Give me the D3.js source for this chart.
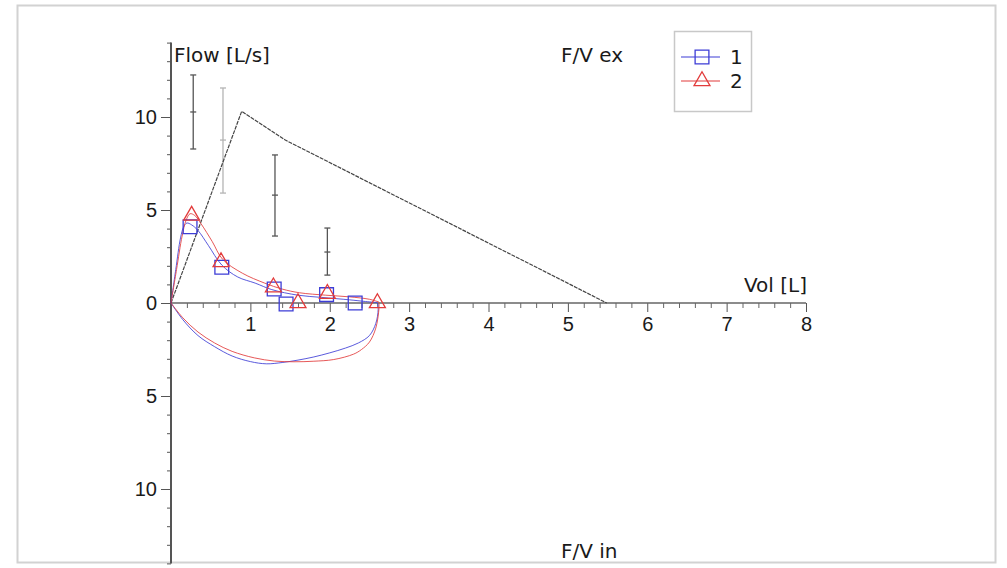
<!DOCTYPE html>
<html>
<head>
<meta charset="utf-8">
<script src="https://cdn.jsdelivr.net/npm/d3@7"></script>
<style>
  body { margin: 0; background: #fff; }
  svg { font-family: "DejaVu Sans", Verdana, sans-serif; }
  .tick text { font-size: 20px; fill: #1a1a1a; }
  .lbl { font-size: 20px; fill: #1a1a1a; }
</style>
</head>
<body>
<svg id="chart" width="1007" height="568"></svg>
<script>
// Axis ticks
const volTicks = [1, 2, 3, 4, 5, 6, 7, 8];
const flowTicks = [-10, -5, 0, 5, 10];

// Predicted curve
const predVol = [0, 0.89, 1.44, 5.49];
const predFlow = [0, 10.3, 8.76, 0];

// Predicted error bars
const barVol = [0.28, 0.655, 1.31, 1.97];
const barMid = [10.27, 8.76, 5.8, 2.74];
const barLow = [8.28, 5.91, 3.6, 1.5];
const barHigh = [12.26, 11.56, 7.96, 4.03];
const barShade = ['dark', 'light', 'dark', 'dark'];

// Measurement 1 (blue)
const exp1Vol = [0, 0.06, 0.12, 0.16, 0.2, 0.26, 0.34, 0.47, 0.64, 0.84, 1.06, 1.27, 1.6, 1.9, 2.25, 2.45, 2.6];
const exp1Flow = [0, 1.8, 3.5, 4.1, 4.3, 4.2, 3.9, 3.1, 2.04, 1.4, 1.07, 0.72, 0.42, 0.3, 0.17, 0.08, 0.02];
const insp1Vol = [2.6, 2.61, 2.58, 2.5, 2.36, 2.2, 2.0, 1.8, 1.6, 1.4, 1.2, 1.0, 0.77, 0.55, 0.34, 0.15, 0];
const insp1Flow = [0.02, -0.35, -1.1, -1.75, -2.15, -2.42, -2.68, -2.9, -3.07, -3.2, -3.27, -3.15, -2.85, -2.35, -1.75, -0.9, 0];
const mark1Vol = [0.24, 0.64, 1.3, 1.45, 1.96, 2.32];
const mark1Flow = [4.1, 1.92, 0.75, -0.05, 0.45, 0];

// Measurement 2 (red)
const exp2Vol = [0, 0.07, 0.14, 0.19, 0.24, 0.3, 0.38, 0.52, 0.65, 0.9, 1.18, 1.4, 1.62, 1.95, 2.25, 2.5, 2.62];
const exp2Flow = [0, 1.8, 3.6, 4.45, 4.8, 4.7, 4.25, 3.3, 2.35, 1.6, 1.07, 0.75, 0.55, 0.42, 0.33, 0.2, 0.05];
const insp2Vol = [2.62, 2.62, 2.58, 2.5, 2.4, 2.3, 2.05, 1.8, 1.55, 1.3, 1.05, 0.77, 0.55, 0.34, 0.15, 0];
const insp2Flow = [0.05, -0.3, -1.35, -2.1, -2.5, -2.75, -3.04, -3.13, -3.16, -3.12, -2.95, -2.6, -2.15, -1.56, -0.8, 0];
const mark2Vol = [0.26, 0.63, 1.29, 1.6, 1.97, 2.6];
const mark2Flow = [4.7, 2.2, 0.85, 0, 0.5, 0];

const seriesNames = ['1', '2'];
const blue = '#3d3dd6';
const red = '#e23b3b';

const svg = d3.select('#chart');

// Frame
svg.append('rect')
  .attr('x', 17.5).attr('y', 5.5)
  .attr('width', 978).attr('height', 557)
  .attr('fill', 'none')
  .attr('stroke', '#d2d2d2')
  .attr('stroke-width', 2);

// Scales
const x = d3.scaleLinear().domain([0, 8]).range([171, 806]);
const y = d3.scaleLinear().domain([-14, 14]).range([563.4, 42.6]);

// Y axis: major + minor ticks
const minorFlow = d3.range(-14, 15).filter(v => v % 5 !== 0);
svg.append('g')
  .attr('transform', `translate(${x(0)},0)`)
  .call(d3.axisLeft(y).tickValues(minorFlow).tickSize(4).tickFormat(''))
  .call(g => g.select('.domain').remove())
  .selectAll('line').attr('stroke', '#555');

svg.append('g')
  .attr('transform', `translate(${x(0)},0)`)
  .call(d3.axisLeft(y).tickValues(flowTicks).tickSize(10).tickPadding(4)
    .tickFormat(d => Math.abs(d)))
  .call(g => g.select('.domain').remove())
  .call(g => g.selectAll('line').attr('stroke', '#555'))
  .call(g => g.selectAll('text').attr('font-family', null));

svg.append('line')
  .attr('x1', x(0)).attr('x2', x(0))
  .attr('y1', y(14)).attr('y2', y(-14))
  .attr('stroke', '#555').attr('stroke-width', 2);

// X axis: major + minor ticks
const minorVol = d3.range(1, 40).map(i => i * 0.2).filter(v => Math.abs(v - Math.round(v)) > 0.01);
svg.append('g')
  .attr('transform', `translate(0,${y(0)})`)
  .call(d3.axisBottom(x).tickValues(minorVol).tickSize(5).tickFormat(''))
  .call(g => g.select('.domain').remove())
  .selectAll('line').attr('stroke', '#666');

svg.append('g')
  .attr('transform', `translate(0,${y(0)})`)
  .call(d3.axisBottom(x).tickValues(volTicks).tickSize(9).tickPadding(5))
  .call(g => g.select('.domain').remove())
  .call(g => g.selectAll('line').attr('stroke', '#555'))
  .call(g => g.selectAll('text').attr('font-family', null));

svg.append('line')
  .attr('x1', x(0)).attr('x2', x(8))
  .attr('y1', y(0)).attr('y2', y(0))
  .attr('stroke', '#666').attr('stroke-width', 1.5);

// Axis labels
svg.append('text').attr('class', 'lbl').attr('x', 174).attr('y', 62).text('Flow [L/s]');
svg.append('text').attr('class', 'lbl').attr('x', 561).attr('y', 62).text('F/V ex');
svg.append('text').attr('class', 'lbl').attr('x', 807).attr('y', 292)
  .attr('text-anchor', 'end').text('Vol [L]');
svg.append('text').attr('class', 'lbl').attr('x', 561).attr('y', 558).text('F/V in');

// Error bars
const bars = barVol.map((v, i) => ({ v, mid: barMid[i], lo: barLow[i], hi: barHigh[i], shade: barShade[i] }));
const barG = svg.append('g').selectAll('g')
  .data(bars)
  .enter()
  .append('g')
  .attr('stroke', d => d.shade === 'dark' ? '#555' : '#b4b4b4')
  .attr('stroke-width', 1.3);
barG.append('line')
  .attr('x1', d => x(d.v)).attr('x2', d => x(d.v))
  .attr('y1', d => y(d.lo)).attr('y2', d => y(d.hi));
[d => d.lo, d => d.mid, d => d.hi].forEach(f => {
  barG.append('line')
    .attr('x1', d => x(d.v) - 3).attr('x2', d => x(d.v) + 3)
    .attr('y1', d => y(f(d))).attr('y2', d => y(f(d)));
});

// Predicted line
const zip = (a, b) => a.map((v, i) => [v, b[i]]);
const straight = d3.line().x(d => x(d[0])).y(d => y(d[1]));
svg.append('path')
  .datum(zip(predVol, predFlow))
  .attr('d', straight)
  .attr('fill', 'none')
  .attr('stroke', '#444')
  .attr('stroke-width', 1.2)
  .attr('stroke-dasharray', '4,1');

// Measured loops
const smooth = d3.line().x(d => x(d[0])).y(d => y(d[1])).curve(d3.curveCatmullRom);
const loops = [
  { color: blue, parts: [zip(exp1Vol, exp1Flow), zip(insp1Vol, insp1Flow)] },
  { color: red, parts: [zip(exp2Vol, exp2Flow), zip(insp2Vol, insp2Flow)] }
];
loops.forEach(s => {
  s.parts.forEach(p => {
    svg.append('path')
      .datum(p)
      .attr('d', smooth)
      .attr('fill', 'none')
      .attr('stroke', s.color)
      .attr('stroke-width', 1)
      .attr('stroke-opacity', 0.85);
  });
});

// Markers
const square = d3.symbol().type(d3.symbolSquare).size(190);
const triangle = d3.symbol().type(d3.symbolTriangle).size(110);
svg.append('g').selectAll('path')
  .data(zip(mark1Vol, mark1Flow))
  .enter()
  .append('path')
  .attr('d', square)
  .attr('transform', d => `translate(${x(d[0])},${y(d[1])})`)
  .attr('fill', 'none').attr('stroke', blue).attr('stroke-width', 1.3);
svg.append('g').selectAll('path')
  .data(zip(mark2Vol, mark2Flow))
  .enter()
  .append('path')
  .attr('d', triangle)
  .attr('transform', d => `translate(${x(d[0])},${y(d[1])})`)
  .attr('fill', 'none').attr('stroke', red).attr('stroke-width', 1.3);

// Legend
const legend = svg.append('g').attr('id', 'legend');
legend.append('rect')
  .attr('x', 674.5).attr('y', 31.5)
  .attr('width', 77).attr('height', 80)
  .attr('fill', '#fff').attr('stroke', '#c8c8c8').attr('stroke-width', 1.5);
const legendItems = seriesNames.map((name, i) => ({ name, color: i ? red : blue, sym: i ? triangle : square }));
const item = legend.selectAll('.item')
  .data(legendItems)
  .enter()
  .append('g')
  .attr('transform', (d, i) => `translate(0,${57 + i * 24})`);
item.append('line')
  .attr('x1', 681).attr('x2', 720)
  .attr('stroke', d => d.color).attr('stroke-width', 1.2);
item.append('path')
  .attr('d', d => d.sym())
  .attr('transform', 'translate(702,0)')
  .attr('fill', 'none').attr('stroke', d => d.color).attr('stroke-width', 1.3);
item.append('text')
  .attr('class', 'lbl')
  .attr('x', 730).attr('y', 7)
  .text(d => d.name);
</script>
</body>
</html>
